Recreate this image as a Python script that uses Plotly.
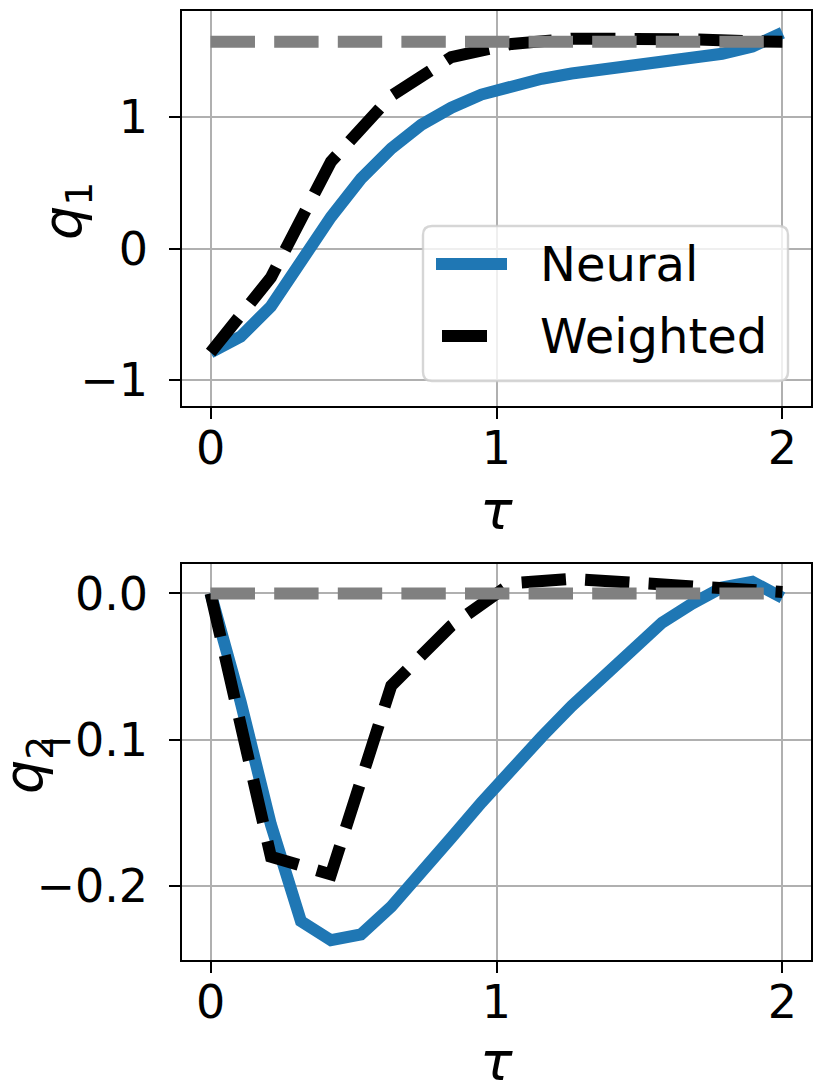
import plotly.graph_objects as go

# time grids (tau)
t_neural = [0.0, 0.105, 0.211, 0.316, 0.421, 0.526, 0.632, 0.737, 0.842, 0.947,
            1.053, 1.158, 1.263, 1.368, 1.474, 1.579, 1.684, 1.789, 1.895, 2.0]
t_weighted = [0.0, 0.211, 0.421, 0.632, 0.842, 1.053, 1.263, 1.474, 1.684, 1.895, 2.0]
t_ref = [0.0, 2.0]

# joint angles
q1_neural = [-0.79, -0.67, -0.44, -0.10, 0.24, 0.53, 0.76, 0.94, 1.07, 1.17,
             1.24, 1.29, 1.33, 1.36, 1.385, 1.41, 1.44, 1.48, 1.535, 1.64]
q2_neural = [0.0, -0.074, -0.158, -0.224, -0.237, -0.233, -0.214, -0.192, -0.167, -0.143,
             -0.119, -0.098, -0.077, -0.058, -0.039, -0.020, -0.007, 0.004, 0.008, -0.003]
q1_weighted = [-0.79, -0.22, 0.66, 1.16, 1.455, 1.555, 1.595, 1.60, 1.59, 1.575, 1.572]
q2_weighted = [0.0, -0.180, -0.192, -0.063, -0.022, 0.007, 0.010, 0.008, 0.005, 0.003, 0.001]
q1_ref = [1.5708, 1.5708]
q2_ref = [0.0, 0.0]

names = ["Neural", "Weighted"]
x_ticks = [0, 1, 2]
q1_ticks = [-1, 0, 1]
q1_ticktext = ["\u22121", "0", "1"]
q2_ticks = [-0.2, -0.1, 0.0]
q2_ticktext = ["\u22120.2", "\u22120.1", "0.0"]

BLUE = "#1f77b4"
DASH = "44.4px,19.2px"
FONT = "DejaVu Sans"

# the page body adds an 8px margin, so the figure is made 16px smaller
OFF = 8
W, H = 829 - 2 * OFF, 1091 - 2 * OFF
ML, MT = 182 - OFF, 11 - OFF
MR, MB = W - ML - 629, H - MT - 949
PW, PH = W - ML - MR, H - MT - MB


def px_x(px):
    # window pixel -> paper fraction
    return (px - OFF - ML) / PW


def px_y(py):
    return (H - MB - (py - OFF)) / PH


fig = go.Figure()
for ax, (qn, qw, qr) in zip(["", "2"], [(q1_neural, q1_weighted, q1_ref),
                                       (q2_neural, q2_weighted, q2_ref)]):
    fig.add_trace(go.Scatter(x=t_neural, y=qn, mode="lines", name=names[0],
                             line=dict(color=BLUE, width=12),
                             xaxis="x" + ax, yaxis="y" + ax, showlegend=False))
    fig.add_trace(go.Scatter(x=t_weighted, y=qw, mode="lines", name=names[1],
                             line=dict(color="black", width=12, dash=DASH),
                             xaxis="x" + ax, yaxis="y" + ax, showlegend=False))
    fig.add_trace(go.Scatter(x=t_ref, y=qr, mode="lines", name="target",
                             line=dict(color="#808080", width=12, dash=DASH),
                             xaxis="x" + ax, yaxis="y" + ax, showlegend=False))

axis_style = dict(showgrid=True, gridcolor="#b0b0b0", gridwidth=2.4, zeroline=False,
                  showline=True, mirror=True, linecolor="black", linewidth=2.4,
                  ticks="outside", ticklen=10.5, tickwidth=2.4, tickcolor="black",
                  automargin=False,
                  tickfont=dict(size=46, color="black", family=FONT))

fig.update_layout(
    width=W, height=H,
    margin=dict(l=ML, r=MR, t=MT, b=MB),
    paper_bgcolor="white", plot_bgcolor="white",
    font=dict(family=FONT, color="black"),
    showlegend=False,
    xaxis=dict(domain=[0, 1], anchor="y", range=[-0.1, 2.1], tickvals=x_ticks,
               ticklabelstandoff=-10, **axis_style),
    yaxis=dict(domain=[0.5836, 1], anchor="x", range=[-1.198, 1.805],
               tickvals=q1_ticks, ticktext=q1_ticktext, ticklabelstandoff=12,
               **axis_style),
    xaxis2=dict(domain=[0, 1], anchor="y2", range=[-0.1, 2.1], tickvals=x_ticks,
                ticklabelstandoff=-10, **axis_style),
    yaxis2=dict(domain=[0, 0.4171], anchor="x2", range=[-0.2505, 0.020],
                tickvals=q2_ticks, ticktext=q2_ticktext, ticklabelstandoff=12,
                **axis_style),
)

# axis titles
title_font = dict(size=54, color="black", family=FONT)
for text, x, y, ang in [("<i>q</i><sub>1</sub>", 66, 211, -90),
                        ("<i>q</i><sub>2</sub>", 27, 765, -90),
                        ("<i>\u03c4</i>", 497, 510, 0),
                        ("<i>\u03c4</i>", 497, 1061, 0)]:
    fig.add_annotation(text=text, xref="paper", yref="paper", x=px_x(x), y=px_y(y),
                       xanchor="center", yanchor="middle", textangle=ang,
                       showarrow=False, font=title_font)

# legend box (rounded, semi transparent) in the top panel
x0, x1, y0, y1 = px_x(423), px_x(788), px_y(381), px_y(226)
rx, ry = 9 / PW, 9 / PH
box = (f"M{x0+rx},{y0} L{x1-rx},{y0} Q{x1},{y0} {x1},{y0+ry} L{x1},{y1-ry} "
       f"Q{x1},{y1} {x1-rx},{y1} L{x0+rx},{y1} Q{x0},{y1} {x0},{y1-ry} "
       f"L{x0},{y0+ry} Q{x0},{y0} {x0+rx},{y0} Z")
fig.add_shape(type="path", path=box, xref="paper", yref="paper", layer="above",
              fillcolor="rgba(255,255,255,0.8)",
              line=dict(color="rgba(204,204,204,0.8)", width=2.4))
fig.add_shape(type="line", xref="paper", yref="paper", layer="above",
              x0=px_x(436), x1=px_x(507), y0=px_y(264), y1=px_y(264),
              line=dict(color=BLUE, width=12))
fig.add_shape(type="line", xref="paper", yref="paper", layer="above",
              x0=px_x(442), x1=px_x(487), y0=px_y(336), y1=px_y(336),
              line=dict(color="black", width=12))
for name, py in zip(names, [264, 336]):
    fig.add_annotation(text=name, xref="paper", yref="paper", x=px_x(538), y=px_y(py),
                       xanchor="left", yanchor="middle", showarrow=False,
                       font=dict(size=48, color="black", family=FONT))

fig.write_html("out.html")
